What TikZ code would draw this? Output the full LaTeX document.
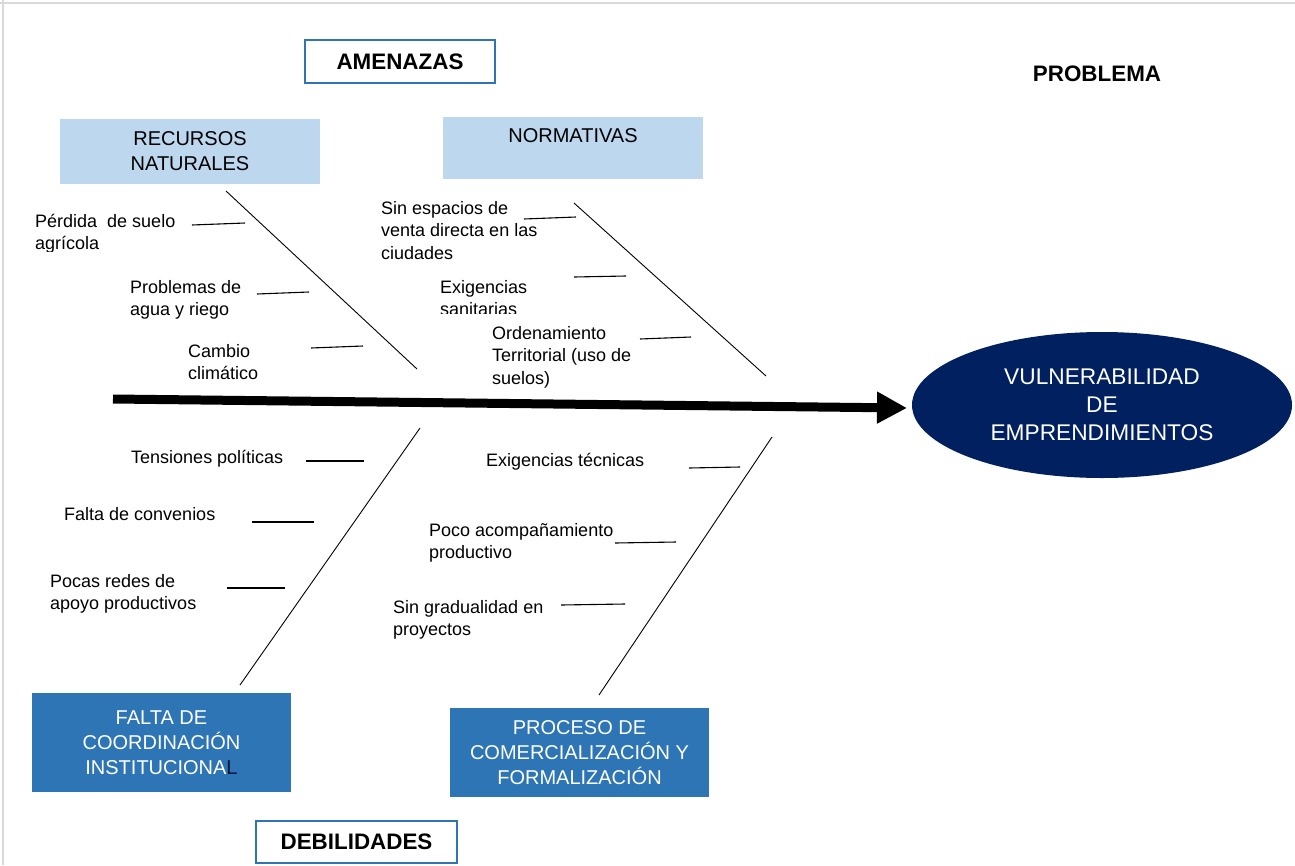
\documentclass[tikz,border=0pt]{standalone}
\usepackage{fontspec}
\setmainfont{Liberation Sans}
\usetikzlibrary{shapes.geometric,arrows.meta}
\definecolor{lblue}{HTML}{BDD7EE}
\definecolor{mblue}{HTML}{2E75B6}
\definecolor{navyb}{HTML}{002060}
\definecolor{framegray}{HTML}{D9D9D9}
\begin{document}
\begin{tikzpicture}[x=1pt,y=-1pt,
  small/.style={font=\fontsize{18}{22.5}\selectfont, align=left, anchor=base west, inner sep=0pt},
  catlight/.style={fill=lblue, font=\fontsize{20}{25}\selectfont, align=center, inner sep=0pt, minimum width=260pt},
  catdark/.style={fill=mblue, text=white, font=\fontsize{20}{25}\selectfont, align=center, inner sep=0pt, minimum width=260pt},
  titlebox/.style={draw=mblue, line width=1.2pt, fill=white, font=\fontsize{22.4}{27}\selectfont\bfseries, inner sep=0pt},
  bone/.style={line width=0.9pt},
  tick/.style={line width=1.1pt},
]
\useasboundingbox (0,0) rectangle (1295,865);
\fill[white] (0,0) rectangle (1295,865);
\draw[framegray, line width=2pt] (0,3) -- (1295,3);
\draw[framegray, line width=2pt] (3,0) -- (3,865);

% title labels
\node[titlebox, minimum width=190pt, minimum height=43pt] (amenazas) at (400,61.5) {AMENAZAS};
\node[titlebox, minimum width=201pt, minimum height=42pt] (debilidades) at (356.5,842) {DEBILIDADES};
\node[font=\fontsize{22.4}{27}\selectfont\bfseries, inner sep=0pt] (problema) at (1097,74) {PROBLEMA};

% category boxes
\node[catlight, minimum height=65pt] (recursos) at (190,151.5) {RECURSOS\\NATURALES};
\node[catlight, minimum height=62pt] (normativas) at (573,148) {NORMATIVAS\\\mbox{}};
\node[catdark, minimum height=99pt, minimum width=259pt] (falta) at (161.5,742.5) {FALTA DE\\COORDINACIÓN\\INSTITUCIONA{\color{navyb!60!black}L}};
\node[catdark, minimum height=89pt, minimum width=259pt] (proceso) at (579.5,752.5) {PROCESO DE\\COMERCIALIZACIÓN Y\\FORMALIZACIÓN};

% effect
\node[ellipse, fill=navyb, text=white, minimum width=380pt, minimum height=146pt, inner sep=0pt,
  font=\fontsize{22.7}{28}\selectfont, align=center] (efecto) at (1102,405) {VULNERABILIDAD\\DE\\EMPRENDIMIENTOS};

% spine
\coordinate (spineA) at (113,399);
\coordinate (spineB) at (907,408);
\draw[line width=9pt, -{Triangle[length=30pt,width=30pt]}] (spineA) -- (spineB);

% bones
\coordinate (b1a) at (226,191); \coordinate (b1b) at (417,369);
\coordinate (b2a) at (574,203); \coordinate (b2b) at (766,376);
\coordinate (b3a) at (420,428); \coordinate (b3b) at (240,685);
\coordinate (b4a) at (772,437); \coordinate (b4b) at (599,695);
\draw[bone] (b1a) -- (b1b);
\draw[bone] (b2a) -- (b2b);
\draw[bone] (b3a) -- (b3b);
\draw[bone] (b4a) -- (b4b);

% ticks
\draw[tick] (192,225) -- (245,223);
\draw[tick] (257,294) -- (309,292);
\draw[tick] (311,348) -- (363,346);
\draw[tick] (524,219) -- (576,217);
\draw[tick] (574,277) -- (626,276);
\draw[tick] (640,339) -- (691,337);
\draw[tick] (306,461) -- (364,461);
\draw[tick] (252,522) -- (314,522);
\draw[tick] (227,588) -- (285,588);
\draw[tick] (689,468) -- (740,467);
\draw[tick] (615,543) -- (676,542);
\draw[tick] (561,605) -- (625,604);

% cause texts (anchor = baseline of the last line)
\begin{scope}
\clip (0,0) rectangle (1295,251);
\node[small] (perdida) at (35,249.5) {Pérdida\ \ de suelo\\agrícola};
\end{scope}
\node[small] (problemas) at (130,315.5) {Problemas de\\agua y riego};
\node[small] (cambio) at (188,379.5) {Cambio\\climático};
\node[small] (sinesp) at (381,259) {Sin espacios de\\venta directa en las\\ciudades};
\begin{scope}
\clip (0,0) rectangle (1295,313);
\node[small] (exisan) at (440,315.5) {Exigencias\\sanitarias};
\end{scope}
\node[small] (orden) at (492,384) {Ordenamiento\\Territorial (uso de\\suelos)};
\node[small] (tension) at (131,463) {Tensiones políticas};
\node[small] (faltaconv) at (64,520) {Falta de convenios};
\node[small] (pocas) at (50,609.5) {Pocas redes de\\apoyo productivos};
\node[small] (exitec) at (486,466) {Exigencias técnicas};
\node[small] (poco) at (429,558.5) {Poco acompañamiento\\productivo};
\node[small] (singrad) at (393,635.5) {Sin gradualidad en\\proyectos};
\end{tikzpicture}
\end{document}
